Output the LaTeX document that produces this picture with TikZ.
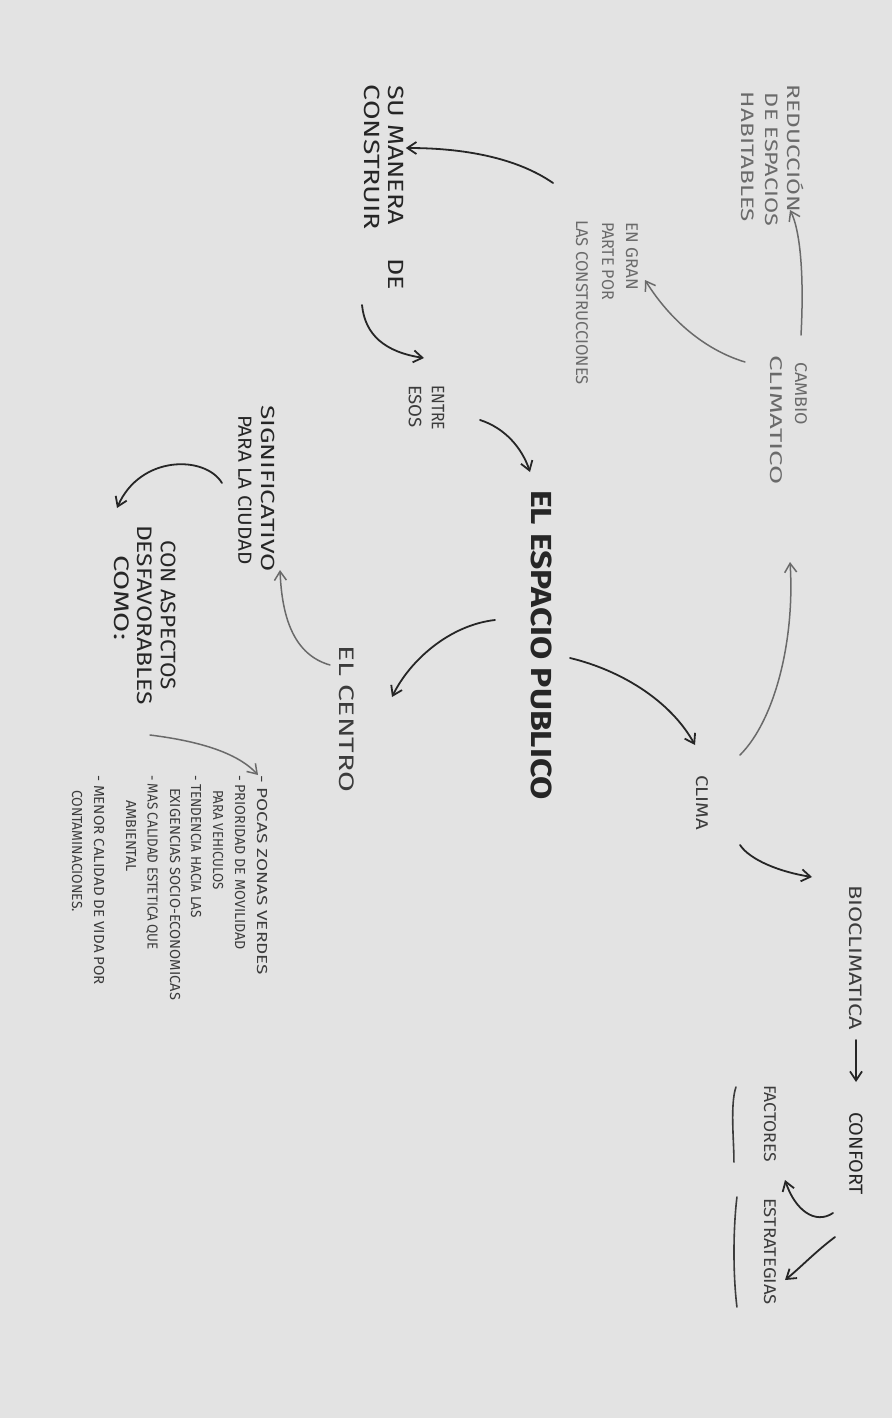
\documentclass[tikz,border=0pt]{standalone}
\usepackage{fontspec}
\setmainfont{Fira Sans}
\usetikzlibrary{arrows.meta,calc}
\definecolor{paper}{HTML}{E3E3E3}
\definecolor{pencilc}{HTML}{6A6A6A}
\definecolor{inkc}{HTML}{262626}
\definecolor{darkc}{HTML}{3C3C3C}
\newcommand{\hw}[3]{\resizebox{#1pt}{\height}{\fontsize{#2}{#2}\selectfont #3}}
\tikzset{
  lbl/.style={rotate=-90, anchor=west, inner sep=0pt, outer sep=0pt},
  pencil/.style={text=pencilc},
  ink/.style={text=inkc},
  dark/.style={text=darkc},
  arr/.style={-{Straight Barb[length=9pt,width=12pt]}, line width=1.5pt, line cap=round},
  parr/.style={arr, draw=pencilc},
  iarr/.style={arr, draw=inkc, line width=1.8pt},
  uline/.style={draw=darkc, line width=1.6pt, line cap=round}
}
\begin{document}
\begin{tikzpicture}[x=1pt,y=-1pt]
\fill[paper] (0,0) rectangle (892,1418);
\useasboundingbox (0,0) rectangle (892,1418);

% top right group
\node[lbl,pencil] (reduc1) at (796,85) {\hw{127}{18}{REDUCCIÓN}};
\node[lbl,pencil] (reduc2) at (772,93) {\hw{133}{18}{DE ESPACIOS}};
\node[lbl,pencil] (reduc3) at (748,92) {\hw{130}{18}{HABITABLES}};
\node[lbl,pencil] (cambio1) at (801,362) {\hw{63}{17}{CAMBIO}};
\node[lbl,pencil] (cambio2) at (776,355) {\hw{130}{17}{CLIMATICO}};
\node[lbl,pencil] (engran1) at (632,222) {\hw{68}{17}{EN GRAN}};
\node[lbl,pencil] (engran2) at (608,222) {\hw{78}{17}{PARTE POR}};
\node[lbl,pencil] (engran3) at (582,220) {\hw{165}{17}{LAS CONSTRUCCIONES}};

% left column
\node[lbl,ink] (su1) at (396,85) {\hw{205}{22}{SU MANERA \quad DE}};
\node[lbl,ink] (su2) at (372,85) {\hw{145}{22}{CONSTRUIR}};
\node[lbl,dark] (entre1) at (438,385) {\hw{45}{18}{ENTRE}};
\node[lbl,dark] (entre2) at (415,385) {\hw{43}{18}{ESOS}};
\node[lbl,ink] (ep) at (542,490) {\hw{310}{29}{\bfseries EL ESPACIO PUBLICO}};
\node[lbl,dark] (centro) at (347,645) {\hw{147}{21}{EL CENTRO}};
\node[lbl,ink] (sig1) at (268,405) {\hw{167}{19}{SIGNIFICATIVO}};
\node[lbl,ink] (sig2) at (245,415) {\hw{150}{19}{PARA LA CIUDAD}};
\node[lbl,ink] (con1) at (168,540) {\hw{150}{21}{CON ASPECTOS}};
\node[lbl,ink] (con2) at (145,525) {\hw{180}{21}{DESFAVORABLES}};
\node[lbl,ink] (con3) at (122,555) {\hw{85}{21}{COMO:}};

% list
\node[lbl,dark] (l1) at (262,775) {\hw{200}{14.5}{- POCAS ZONAS VERDES}};
\node[lbl,dark] (l2) at (240,775) {\hw{175}{14.5}{- PRIORIDAD DE MOVILIDAD}};
\node[lbl,dark] (l3) at (218,790) {\hw{100}{14.5}{PARA VEHICULOS}};
\node[lbl,dark] (l4) at (196,775) {\hw{143}{14.5}{- TENDENCIA HACIA LAS}};
\node[lbl,dark] (l5) at (175,788) {\hw{212}{14.5}{EXIGENCIAS SOCIO-ECONOMICAS}};
\node[lbl,dark] (l6) at (152,775) {\hw{175}{14.5}{- MAS CALIDAD ESTETICA QUE}};
\node[lbl,dark] (l7) at (131,800) {\hw{72}{14.5}{AMBIENTAL}};
\node[lbl,dark] (l8) at (99,775) {\hw{210}{14.5}{- MENOR CALIDAD DE VIDA POR}};
\node[lbl,dark] (l9) at (77,790) {\hw{122}{14.5}{CONTAMINACIONES.}};

% right column
\node[lbl,dark] (clima) at (702,775) {\hw{55}{17}{CLIMA}};
\node[lbl,dark] (bio) at (856,885) {\hw{145}{18}{BIOCLIMATICA}};
\node[lbl,ink] (confort) at (856,1112) {\hw{83}{19}{CONFORT}};
\node[lbl,dark] (factores) at (770,1085) {\hw{77}{17}{FACTORES}};
\node[lbl,dark] (estrat) at (770,1198) {\hw{107}{17}{ESTRATEGIAS}};

% underlines
\draw[uline] ($(factores.south west)+(-28,2)$) .. controls (730,1105) and (734,1140) .. ($(factores.south east)+(-30,0)$);
\draw[uline] ($(estrat.south west)+(-27,-1)$) .. controls (733,1230) and (733,1275) .. ($(estrat.south east)+(-27,2)$);

% connectors
\draw[parr] ($(cambio1.west)+(0,-27)$) .. controls (804,280) and (801,232) .. ($(reduc1.east)+(-6,-2)$);
\draw[parr] ($(cambio2.west)+(-31,7)$) .. controls (705,350) and (670,320) .. ($(engran1.east)+(13,-10)$);
\draw[iarr] ($(engran3.west)+(-29,-37)$) .. controls (520,160) and (470,148) .. ($(su1.north west)+(2,63)$);
\draw[iarr] ($(su2.east)+(-10,75)$) .. controls (365,335) and (385,352) .. ($(entre1.west)+(-14,-27)$);
\draw[iarr] ($(entre1.east)+(42,-10)$) .. controls (505,428) and (522,448) .. ($(ep.west)+(-12,-18)$);
\draw[iarr] ($(ep.west)+(-47,130)$) .. controls (450,625) and (410,660) .. ($(centro.west)+(45,52)$);
\draw[parr] ($(centro.west)+(-17,20)$) .. controls (295,655) and (282,620) .. ($(sig1.east)+(12,-2)$);
\draw[iarr] ($(sig2.west)+(-23,68)$) .. controls (205,455) and (140,455) .. ($(con2.west)+(-28,-17)$);
\draw[parr] ($(con1.east)+(-18,45)$) .. controls (190,740) and (235,750) .. ($(l1.west)+(-4,0)$);
\draw[iarr] ($(ep.west)+(28,168)$) .. controls (620,670) and (670,700) .. ($(clima.west)+(-7,-30)$);
\coordinate (cl) at ($(cambio2.east)+(14,77)$);
\draw[parr] ($(clima.west)+(38,-20)$) .. controls (775,720) and (795,640) .. (cl);
\draw[iarr] ($(clima.east)+(38,15)$) .. controls (750,860) and (780,872) .. ($(bio.west)+(-44,-8)$);
\draw[iarr] ($(bio.east)+(0,10)$) -- ($(confort.west)+(0,-30)$);
\draw[iarr] ($(confort.west)+(-23,101)$) .. controls (815,1225) and (795,1210) .. ($(factores.east)+(15,18)$);
\draw[iarr] ($(confort.west)+(-21,125)$) .. controls (815,1252) and (800,1268) .. ($(estrat.west)+(15,82)$);
\end{tikzpicture}
\end{document}
